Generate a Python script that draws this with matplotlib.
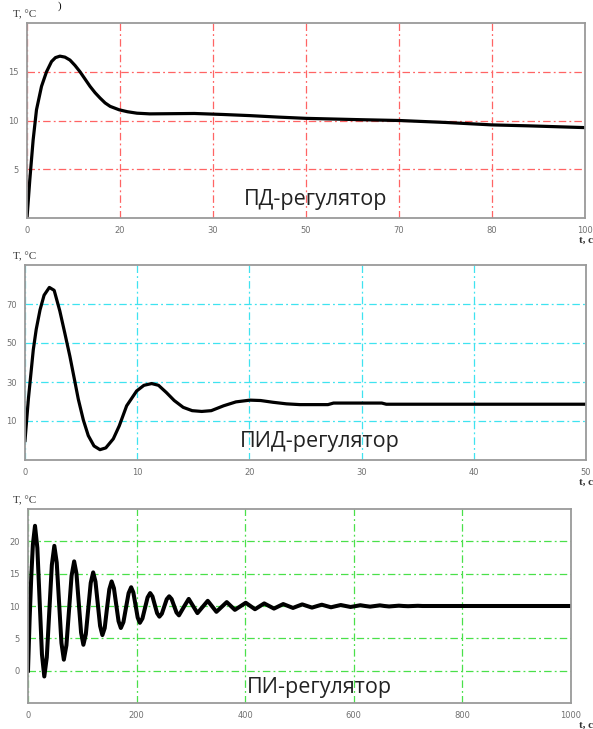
import matplotlib
matplotlib.use("Agg")
import matplotlib.pyplot as plt

# ПД-регулятор
pd_t = [0, 0.5, 1.1, 1.7, 2.6, 3.5, 4.4, 5.1, 5.9, 6.8, 7.7, 8.6, 9.5, 10.4, 11.3, 12.2, 13.1,
        14.0, 14.9, 16.5, 18.0, 19.7, 22, 26, 30, 35, 40, 45, 50, 55, 60, 66.7, 75, 83.3, 90, 100]
pd_T = [0, 3.9, 8.0, 11.1, 13.5, 15.0, 16.05, 16.45, 16.6, 16.5, 16.2, 15.65, 15.0, 14.25, 13.5,
        12.85, 12.3, 11.8, 11.45, 11.1, 10.9, 10.75, 10.68, 10.7, 10.72, 10.62, 10.5, 10.35,
        10.22, 10.15, 10.08, 10.0, 9.8, 9.55, 9.45, 9.27]
pd_xticklabels = ["0", "20", "30", "50", "70", "80", "100"]
pd_yticks = [5, 10, 15]

# ПИД-регулятор
pid_t = [0, 0.3, 0.74, 1.0, 1.34, 1.7, 2.17, 2.6, 3.1, 3.55, 4.0, 4.4, 4.75, 5.2, 5.64,
         6.15, 6.68, 7.2, 7.87, 8.4, 9.06, 9.95, 10.6, 11.29, 11.9, 12.6, 13.3, 14.1, 14.9,
         15.75, 16.6, 17.7, 18.8, 20.05, 21.0, 22.1, 23.3, 24.5, 27.0, 27.5, 31.8, 32.2, 50]
pid_T = [0, 21.2, 46.6, 57.0, 67.0, 74.5, 78.5, 77.0, 66.5, 55.0, 43.2, 31.5, 21.2, 10.5, 2.5,
         -2.8, -4.7, -3.8, 0.85, 7.5, 17.8, 25.4, 28.3, 29.2, 28.3, 24.6, 20.5, 17.0, 15.3,
         14.9, 15.3, 17.8, 19.8, 20.7, 20.5, 19.6, 18.8, 18.4, 18.4, 19.2, 19.2, 18.6, 18.6]
pid_xticks = [0, 10, 20, 30, 40, 50]
pid_yticks = [10, 30, 50, 70]

# ПИ-регулятор
pi_t = [0, 3, 6, 9, 12.9,
        17.2, 21.45, 25.7, 30,
        34.6, 39.25, 43.9, 48.5,
        52.9, 57.25, 61.6, 66,
        70.75, 75.5, 80.25, 85,
        89.25, 93.5, 97.75, 102,
        106.5, 111, 115.5, 120,
        124.25, 128.5, 132.75, 137,
        141.25, 145.5, 149.75, 154,
        158.25, 162.5, 166.75, 171,
        175.75, 180.5, 185.25, 190,
        194, 198, 202, 206,
        210.75, 215.5, 220.25, 225,
        229.25, 233.5, 237.75, 242,
        246.5, 251, 255.5, 260,
        264.5, 269, 273.5, 278,
        287, 296, 304, 312, 321.5, 331, 339, 347, 356.5, 366, 373.5, 381,
        391, 401, 409.5, 418, 426.5, 435, 444, 453, 461.5, 470, 479, 488,
        496.5, 505, 514, 523, 532, 541, 549.5, 558, 567, 576, 585, 594,
        603, 612, 621, 630, 639, 648, 656.5, 665, 674, 683, 691.5, 700,
        709, 718, 726.5, 735, 1000]
pi_T = [0, 8.0, 14.5, 19.5, 22.4,
        18.99, 10.75, 2.51, -0.9,
        2.06, 9.2, 16.34, 19.3,
        16.72, 10.5, 4.28, 1.7,
        3.93, 9.3, 14.67, 16.9,
        15.01, 10.45, 5.89, 4.0,
        5.64, 9.6, 13.56, 15.2,
        13.78, 10.35, 6.92, 5.5,
        6.58, 9.65, 12.58, 13.8,
        12.75, 10.2, 7.65, 6.6,
        7.52, 9.75, 11.98, 12.9,
        12.09, 10.15, 8.21, 7.4,
        8.07, 9.7, 11.33, 12.0,
        11.47, 10.18, 8.89, 8.35,
        8.81, 9.93, 11.05, 11.5,
        11.07, 10.03, 8.99, 8.55,
        9.85, 11.1, 10.0, 8.9, 9.85, 10.8, 9.95, 9.1, 9.85, 10.6, 10.0, 9.4,
        9.95, 10.5, 10.0, 9.5, 9.95, 10.4, 10.0, 9.6, 9.95, 10.3, 10.0, 9.7,
        9.98, 10.25, 10.0, 9.75, 9.98, 10.2, 10.0, 9.8, 9.98, 10.15, 10.0, 9.85,
        9.98, 10.12, 10.0, 9.9, 10.0, 10.1, 10.0, 9.93, 9.99, 10.05, 10.0, 9.97,
        10.0, 10.03, 10.0, 10.0, 10.0]
pi_xticks = [0, 200, 400, 600, 800, 1000]
pi_yticks = [0, 5, 10, 15, 20]

W, H = 593, 729
fig = plt.figure(figsize=(W / 100, H / 100), dpi=100)


def make_axes(l, r, t, b):
    return fig.add_axes([l / W, 1 - b / H, (r - l) / W, (b - t) / H])


def style(ax, grid_color):
    for s in ax.spines.values():
        s.set_color("#9a9a9a")
        s.set_linewidth(1.3)
    ax.tick_params(length=0, labelsize=6, colors="#707070", pad=6)
    ax.grid(True, color=grid_color, linewidth=0.9, dashes=(6, 2.5, 1.5, 2.5))
    ax.set_axisbelow(True)


panels = [
    (27, 585, 23, 218, "#ff6464", "ПД-регулятор", 316, 200),
    (25, 586, 265, 460, "#3fe3f0", "ПИД-регулятор", 320, 441),
    (28, 571, 509, 703, "#4ae04a", "ПИ-регулятор", 319, 687),
]

axes = []
for l, r, t, b, gc, name, tx, ty in panels:
    ax = make_axes(l, r, t, b)
    style(ax, gc)
    fig.text(13 / W, 1 - (t - 8) / H, "T, °C", family="Liberation Serif",
             fontsize=8, color="#333333", va="center", ha="left")
    fig.text(579 / W, 1 - (b + 22) / H, "t, c", family="Liberation Serif",
             fontsize=8, color="#333333", va="center", ha="left", weight="bold")
    fig.text(tx / W, 1 - ty / H, name, family="Open Sans", fontsize=15.5,
             color="#222222", ha="center", va="center")
    axes.append(ax)

ax1, ax2, ax3 = axes

ax1.plot(pd_t, pd_T, color="black", lw=2.3, solid_joinstyle="round")
ax1.set_xlim(0, 100)
ax1.set_ylim(0, 20)
ax1.set_xticks([100 * i / 6 for i in range(7)])
ax1.set_xticklabels(pd_xticklabels)
ax1.set_yticks(pd_yticks)

ax2.plot(pid_t, pid_T, color="black", lw=2.3, solid_joinstyle="round")
ax2.set_xlim(0, 50)
ax2.set_ylim(-10, 90)
ax2.set_xticks(pid_xticks)
ax2.set_yticks(pid_yticks)

ax3.plot(pi_t, pi_T, color="black", lw=2.9, solid_joinstyle="round")
ax3.set_xlim(0, 1000)
ax3.set_ylim(-5, 25)
ax3.set_xticks(pi_xticks)
ax3.set_yticks(pi_yticks)

# fragment of the caption from the figure above
fig.text(60 / W, 1 - 1 / H, ")", family="Liberation Serif", fontsize=8,
         color="black", ha="center", va="top")

fig.savefig("out.png", dpi=100)
